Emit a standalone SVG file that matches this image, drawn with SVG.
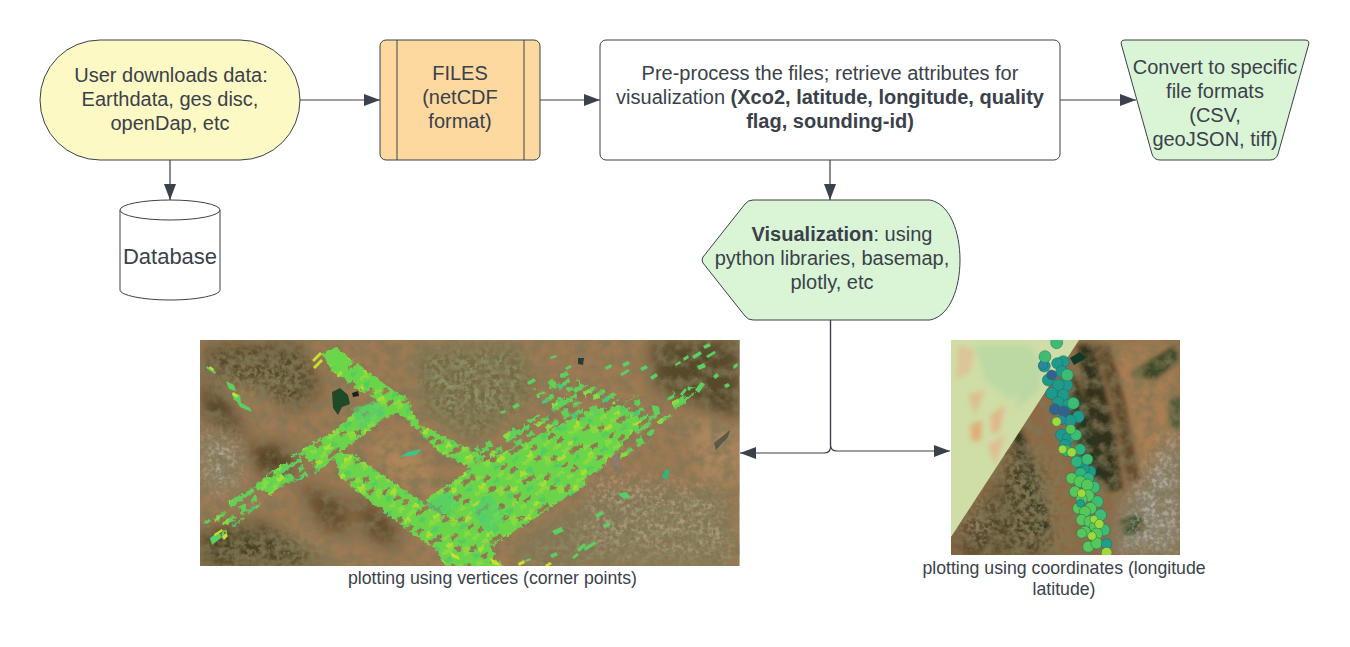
<svg xmlns="http://www.w3.org/2000/svg" width="1350" height="647" viewBox="0 0 1350 647">
<style>
.n{stroke:#3a414a;stroke-width:1}
text{font-family:"Liberation Sans",Arial,sans-serif;font-size:20px;fill:#3a414a;text-anchor:middle}
.b{font-weight:bold}
.cap{font-size:17.700px}
.c{fill:none;stroke:#3a414a;stroke-width:1.2}
.dots circle{stroke:#1d6b66;stroke-width:1.5}
</style>
<defs>
<marker id="ah" markerUnits="userSpaceOnUse" markerWidth="16" markerHeight="12" refX="16" refY="6" orient="auto"><path d="M0 0L16 6L0 12Z" fill="#3a414a"/></marker>
<filter id="noise" x="0" y="0" width="100%" height="100%"><feTurbulence type="fractalNoise" baseFrequency="0.09" numOctaves="5" seed="11"/><feColorMatrix values="0 0 0 0 .22  0 0 0 0 .18  0 0 0 0 .09  2.6 0 0 0 -.95"/></filter>
<filter id="speck" x="-25%" y="-25%" width="150%" height="150%"><feTurbulence type="fractalNoise" baseFrequency=".2" numOctaves="3" seed="5" result="t"/><feColorMatrix in="t" values="0 0 0 0 .27  0 0 0 0 .28  0 0 0 0 .13  0 4 0 0 -1.5" result="c"/><feGaussianBlur in="SourceAlpha" stdDeviation="13" result="a"/><feComposite in="c" in2="a" operator="in"/></filter>
<filter id="pale" x="-25%" y="-25%" width="150%" height="150%"><feTurbulence type="fractalNoise" baseFrequency=".25" numOctaves="3" seed="9" result="t"/><feColorMatrix in="t" values="0 0 0 0 .70  0 0 0 0 .62  0 0 0 0 .50  0 4 0 0 -1.7" result="c"/><feGaussianBlur in="SourceAlpha" stdDeviation="10" result="a"/><feComposite in="c" in2="a" operator="in"/></filter>
<filter id="bl" x="-25%" y="-25%" width="150%" height="150%"><feGaussianBlur stdDeviation="8"/></filter>
<filter id="bl2" x="-20%" y="-20%" width="140%" height="140%"><feGaussianBlur stdDeviation="2.500"/></filter>
<filter id="rough" x="-5%" y="-5%" width="110%" height="110%"><feTurbulence type="fractalNoise" baseFrequency=".3" numOctaves="1" seed="4" result="t"/><feDisplacementMap in="SourceGraphic" in2="t" scale="7" xChannelSelector="R" yChannelSelector="G" result="d"/><feGaussianBlur in="d" stdDeviation=".4"/></filter>
<clipPath id="cl"><rect x="200" y="340" width="539.500" height="226"/></clipPath>
<clipPath id="cr"><rect x="951" y="340" width="229" height="215"/></clipPath>
<clipPath id="tri"><path d="M951 340H1079L951 537Z"/></clipPath>
<pattern id="cells" width="56" height="32" patternUnits="userSpaceOnUse" patternTransform="rotate(-33) skewX(-8)">
<path fill="#6ad44c" fill-rule="evenodd" d="M0 0H56V32H0ZM14 4h7v4h-7ZM42 0h7v4h-7ZM28 12h7v4h-7ZM0 16h7v4h-7ZM49 16h7v4h-7ZM14 24h7v4h-7ZM35 24h7v4h-7Z"/>
<path fill="#88da40" d="M0 0h14v4H0ZM21 8h7v8h-7ZM35 4h7v4h-7ZM7 20h7v4H7ZM42 12h7v4h-7ZM28 28h7v4h-7Z"/>
<path fill="#aade34" d="M49 8h7v4h-7ZM7 28h7v4H7ZM35 16h7v4h-7Z"/>
<path fill="#55cc60" d="M0 8h7v4H0ZM28 20h7v4h-7ZM49 24h7v4h-7ZM21 0h7v4h-7Z"/>
</pattern>
<pattern id="sparse" width="56" height="32" patternUnits="userSpaceOnUse" patternTransform="rotate(-33) skewX(-8) translate(9 3)">
<path fill="#60d058" d="M0 0h14v4H0ZM21 4h14v4H21ZM42 0h14v4H42ZM7 8h7v4H7ZM28 12h14v4H28ZM49 8h7v8h-7ZM0 16h14v4H0ZM21 20h7v8h-7ZM35 20h14v4H35ZM7 24h7v4H7ZM42 28h14v4H42ZM14 28h14v4H14Z"/>
<path fill="#8adb44" d="M21 4h7v4h-7ZM28 12h7v4h-7ZM42 28h7v4h-7Z"/>
<path fill="#48c878" d="M0 16h7v4H0ZM35 20h7v4h-7Z"/>
</pattern>
</defs>

<g id="connectors">
<path class="c" d="M300 100H380" marker-end="url(#ah)"/>
<path class="c" d="M540 100H600" marker-end="url(#ah)"/>
<path class="c" d="M1060 100H1136" marker-end="url(#ah)"/>
<path class="c" d="M170 160V200" marker-end="url(#ah)"/>
<path class="c" d="M830 160V200" marker-end="url(#ah)"/>
<path class="c" d="M830.500 320V447Q830.500 453 824 453H740" marker-end="url(#ah)"/>
<path class="c" d="M830.500 320V445Q830.500 451 837 451H950" marker-end="url(#ah)"/>
</g>

<g id="node-download">
<rect class="n" x="40" y="40" width="260" height="120" rx="60" fill="#fdf9c4"/>
<text x="171" y="82">User downloads data:</text>
<text x="170" y="106">Earthdata, ges disc,</text>
<text x="170" y="130">openDap, etc</text>
</g>
<g id="node-files">
<rect class="n" x="380" y="40" width="160" height="120" rx="6" fill="#fdd9a0"/>
<path class="n" fill="none" d="M397 40V160M524 40V160"/>
<text x="460" y="80">FILES</text>
<text x="460" y="104">(netCDF</text>
<text x="460" y="128">format)</text>
</g>
<g id="node-preprocess">
<rect class="n" x="600" y="40" width="460" height="120" rx="6" fill="#fff"/>
<text x="830" y="80">Pre-process the files; retrieve attributes for</text>
<text x="830" y="104">visualization <tspan class="b">(Xco2, latitude, longitude, quality</tspan></text>
<text x="830" y="128" class="b">flag, sounding-id)</text>
</g>
<g id="node-convert">
<path class="n" fill="#daf5d6" d="M1125 40H1305Q1310 40 1308.500 45L1278 154Q1276 160 1270 160H1160Q1154 160 1152 154L1121.500 45Q1120 40 1125 40Z"/>
<text x="1215" y="74">Convert to specific</text>
<text x="1215" y="98">file formats</text>
<text x="1215" y="122">(CSV,</text>
<text x="1215" y="146">geoJSON, tiff)</text>
</g>
<g id="node-database">
<path class="n" fill="#fff" d="M120 210V290C120 295 142 300 170 300S220 295 220 290V210"/>
<ellipse class="n" cx="170" cy="210" rx="50" ry="10" fill="#fff"/>
<text x="170" y="264" style="font-size:22px">Database</text>
</g>
<g id="node-visualization">
<path class="n" fill="#daf5d6" d="M753 200H930C950 204 960 232 960 260S950 316 930 320H753Q748 320 745 316L703 263Q701 260 703 257L745 204Q748 200 753 200Z"/>
<text x="842" y="241"><tspan class="b">Visualization</tspan>: using</text>
<text x="832" y="265">python libraries, basemap,</text>
<text x="832" y="289">plotly, etc</text>
</g>

<g id="node-map-vertices">
<g clip-path="url(#cl)">
<rect x="200" y="340" width="540" height="226" fill="#9c7a54"/>
<g filter="url(#bl)">
<path fill="#584629" d="M205 345L300 342L322 390L296 412L262 390L205 372Z"/>
<path fill="#54452a" d="M200 378L225 395L250 440L205 420Z"/>
<path fill="#4f4023" d="M245 445L285 445L298 470L265 478Z"/>
<path fill="#604b2b" d="M298 482L345 500L352 535L322 530Z"/>
<path fill="#604b2b" d="M352 492L395 520L400 552L365 535Z"/>
<path fill="#483f23" d="M200 532L262 522L330 566H200Z"/>
<path fill="#544a29" d="M650 340H740V428L700 405L655 388Z"/>
<path fill="#8a8167" d="M203 430L240 450L235 490L205 490Z"/>
<path fill="#ab875e" d="M690 420H740V485L700 480Z"/>
<path fill="#ad8659" d="M370 430L420 450L440 500L380 470Z"/>
<path fill="#877452" d="M510 550L600 490L725 490L735 566H520Z"/>
<path fill="#736a42" d="M415 350L520 345L535 395L475 440L425 410Z"/>
</g>
<path fill="#000" filter="url(#speck)" d="M415 350L520 345L535 395L475 440L425 410Z"/>
<path fill="#000" filter="url(#speck)" d="M505 555L600 495L725 495L735 566H520Z" opacity=".7"/>
<path fill="#000" filter="url(#speck)" d="M205 350H320L300 410L210 385Z" opacity=".7"/>
<path fill="#000" filter="url(#speck)" d="M205 540L320 530L340 566H205Z" opacity=".7"/>
<path fill="#000" filter="url(#pale)" d="M205 425L240 440L240 480L205 495Z" opacity=".5"/>
<path fill="#000" filter="url(#pale)" d="M590 470L720 490L735 560L580 550Z" opacity=".35"/>
<rect x="200" y="340" width="540" height="226" filter="url(#noise)" opacity=".75"/>
<path fill="#1e4a26" d="M332 392L340 388L348 395L350 404L342 407L338 415L333 408Z"/>
<path fill="#16251c" d="M352 393L358 391L359 396L353 397Z"/>
<path fill="#2a3a36" d="M578 358L584 358L583 365L578 364Z"/>
<path fill="#2c4038" opacity=".6" d="M714 443L730 430L728 437L716 450Z"/>
<path fill="#8a7f8a" opacity=".6" d="M608 440L614 465L630 478L620 470L616 440Z"/>
<g filter="url(#rough)">
<g fill="url(#cells)">
<path d="M322 353L336 347L379 380L405 398L420 425L486 457L476 470L440 453L404 417L365 393L333 373Z"/>
<path d="M300 450L333 432L361 407L404 395L411 405L383 420L347 447L318 472Z"/>
<path d="M254 487L275 468L290 480L270 495Z"/>
<path d="M333 453L351 453L419 500L490 547L504 568H447L436 550L390 517L340 477Z"/>
<path d="M425 500L476 465L530 440L590 410L620 405L645 418L611 457L583 487L490 547L461 530L436 507Z"/>
</g>
<g fill="url(#sparse)">
<path d="M204 523L226 503L254 487L283 463L300 450L318 472L276 490L251 513L222 537Z"/>
<path d="M476 447L547 410L586 385L626 393L600 415L530 440L476 465Z"/>
<path d="M533 390L569 370L586 387L547 410Z"/>
<path d="M615 410L640 393L660 408L640 433L625 430Z"/>
<path d="M636 433L678 388L700 387L652 437Z"/>
<path d="M611 457L640 433L650 440L622 462Z"/>
</g>
<path fill="#6ad648" d="M322 355L336 347L352 362L345 375L332 365Z"/>
<path fill="#4fce70" opacity=".6" d="M470 510L490 495L505 515L490 535Z"/>
<path fill="#4fce70" opacity=".6" d="M425 505L445 490L460 505L440 515Z"/>
<path fill="#52cc70" opacity=".6" d="M352 408L380 400L385 415L360 430Z"/>
</g>
<g fill="#5bd060">
<path d="M703 346l6-3 2 3-6 3z M692 356l8-5 2 3-8 5z M706 356l8-5 2 2-8 5z M697 366l7-3 2 4-7 3z M683 358l5-3 1 3-5 3z M675 364l5-3 1 2-5 3z M733 366l4-3 1 3-4 3z M713 376l4-3 2 3-4 3z M695 390l6-8 4 2-6 9z M724 385l4-2 2 3-4 2z M680 394l5-6 2 2-5 6z M668 398l5-3 2 2-5 3z"/>
<path d="M640 368l6-3 2 3-6 3z M622 364l6-3 2 3-6 3z M605 367l6-3 1 3-6 3z M620 374l8-5 2 2-8 5z M650 377l6-4 2 3-6 4z"/>
<path d="M527 382l7-4 2 3-7 4z M512 406l6-3 2 3-6 3z M500 412l5-2 1 2-5 2z M560 375l7-3 2 3-7 3z M550 357l6-2 1 2-6 2z M565 368l5-3 2 2-5 3z"/>
<path d="M226 381l8 4 2 6-7-2z M232 393l8 2 1 8-7-3z M236 400l14 8 2 4-12-5z M207 366l9 6-1 2-9-6z"/>
<path d="M552 531l9-4 3 4-9 4z M595 515l7-4 2 3-7 4z M550 555l6-3 2 3-6 3z M525 560l5-2 1 2-5 2z M577 549l7-6 2 3-7 6z M572 557l5-4 2 2-5 4z M584 548l11-7 1 3-11 7z M603 525l6-3 2 3-6 3z"/>
<path d="M618 494l8-2 5 5-7 2z" fill="#4fd06a"/>
<path d="M662 477l4-8 4 2-3 9z" fill="#2fb67c"/>
<path d="M400 457l8-5 14-3-6 6z" fill="#3ec486"/>
<path d="M205 522l4-3 2 2-4 3z M210 538l8-6 4 5-10 8z"/>
</g>
<path fill="#c9e02e" d="M312 360l8-8 2 2-8 8z M313 367l8-8 2 2-8 8z M210 366l4 3-1 2-4-3z M233 392l5 3-1 3-5-3z M222 537l4-4 2 3-4 4z M214 534l8-5 1 2-8 5z M545 565l5-3 2 2-5 3z M518 563l6-3 1 3-6 3z M450 552l8 4 2 4-8-3z M490 558l8 4 2 4-8-2z"/>
</g>
</g>

<g id="node-map-coordinates">
<g clip-path="url(#cr)">
<rect x="951" y="340" width="229" height="215" fill="#8c6a45"/>
<g filter="url(#bl)">
<path fill="#a87e52" d="M1095 340H1180V470L1135 480L1112 400Z"/>
<path fill="#8a8674" d="M1120 510L1150 470L1180 430V555H1115Z"/>
<path fill="#4a3d22" d="M1010 440L1040 470L1050 555H1000Z"/>
<path fill="#524428" d="M960 530L1010 470L1010 555H955Z"/>
</g>
<g filter="url(#bl2)">
<path fill="#33301a" d="M1078 345L1093 345L1115 430L1122 490L1105 490L1085 400Z"/>
<path fill="#28351f" d="M1072 370L1084 400L1104 480L1090 480L1070 420Z"/>
<path fill="#5e4a2c" d="M1095 345L1110 345L1125 400L1140 480L1128 480L1112 400Z"/>
<path fill="#33301a" d="M1012 430L1022 430L1050 530L1040 535Z"/>
<path fill="#3c4a28" d="M1130 375L1150 360L1175 345L1180 360L1155 380Z"/>
<path fill="#3c5230" d="M1170 400L1180 395V430L1170 425Z"/>
<path fill="#33492a" d="M1120 520L1140 515L1145 530L1125 535Z"/>
</g>
<path fill="#000" filter="url(#pale)" d="M1130 500L1170 430L1180 430V555H1125Z" opacity=".5"/>
<path fill="#000" filter="url(#pale)" d="M965 520L990 490L995 540L962 548Z" opacity=".5"/>
<path fill="#000" filter="url(#speck)" d="M1000 440L1050 460L1060 555H1000Z" opacity=".7"/>
<rect x="951" y="340" width="229" height="215" filter="url(#noise)" opacity=".75"/>
<path fill="#0f3a2a" d="M1070 358L1080 352L1086 358L1074 365Z"/>
<path fill="#cfdda6" d="M951 340H1079L951 537Z"/>
<g clip-path="url(#tri)">
<g filter="url(#bl2)">
<path fill="#dcbf8c" d="M968 395L985 390L975 415Z"/>
<path fill="#e0ad78" d="M970 425L982 420L981 440L972 442Z"/>
<path fill="#e0b88a" d="M990 415L1005 405L1000 430L992 435Z"/>
<path fill="#dfbd92" d="M988 445L1005 435L995 465Z"/>
<path fill="#bcd9a4" d="M975 345L1030 345L1045 370L1010 400L985 380Z"/>
<path fill="#dcc598" d="M958 345L975 350L970 372L956 380Z"/>
<path fill="#bcd8a2" d="M1020 385L1040 370L1040 390L1015 410Z"/>
</g>
</g>
<g class="dots" transform="translate(730 330) scale(.3333)">
<g fill="#1f9a8a"><circle cx="943" cy="108" r="18"/><circle cx="1000" cy="95" r="18"/><circle cx="982" cy="100" r="17"/><circle cx="995" cy="125" r="18"/><circle cx="955" cy="150" r="18"/><circle cx="1010" cy="165" r="18"/><circle cx="985" cy="165" r="18"/><circle cx="965" cy="190" r="18"/><circle cx="1000" cy="195" r="18"/><circle cx="985" cy="218" r="18"/><circle cx="1015" cy="225" r="18"/><circle cx="1045" cy="260" r="18"/><circle cx="1020" cy="272" r="18"/><circle cx="995" cy="315" r="18"/><circle cx="1015" cy="325" r="18"/><circle cx="1005" cy="345" r="17"/><circle cx="1080" cy="425" r="18"/><circle cx="1060" cy="415" r="18"/><circle cx="1050" cy="395" r="17"/></g>
<g fill="#33638d"><circle cx="965" cy="135" r="15"/><circle cx="975" cy="238" r="17"/><circle cx="1002" cy="245" r="17"/></g>
<g fill="#2a87a0"><circle cx="940" cy="105" r="14"/><circle cx="995" cy="270" r="14"/></g>
<g fill="#3fbc73"><circle cx="980" cy="38" r="18"/><circle cx="945" cy="80" r="18"/><circle cx="1012" cy="135" r="18"/><circle cx="1030" cy="220" r="18"/><circle cx="1038" cy="315" r="17"/><circle cx="1072" cy="388" r="17"/><circle cx="1092" cy="472" r="18"/><circle cx="1102" cy="515" r="18"/><circle cx="1122" cy="600" r="18"/><circle cx="1112" cy="555" r="18"/></g>
<g fill="#2fb47c"><circle cx="1010" cy="362" r="17"/><circle cx="1040" cy="395" r="17"/><circle cx="1050" cy="358" r="17"/><circle cx="1052" cy="430" r="17"/><circle cx="1075" cy="445" r="17"/></g>
<g fill="#57c857"><circle cx="1022" cy="298" r="15"/><circle cx="1025" cy="445" r="17"/><circle cx="1050" cy="455" r="18"/><circle cx="1072" cy="465" r="18"/><circle cx="1035" cy="485" r="17"/><circle cx="1075" cy="497" r="18"/><circle cx="1055" cy="508" r="17"/><circle cx="1082" cy="535" r="18"/><circle cx="1045" cy="535" r="17"/><circle cx="1065" cy="545" r="17"/><circle cx="1055" cy="570" r="17"/><circle cx="1080" cy="575" r="18"/><circle cx="1095" cy="590" r="17"/><circle cx="1065" cy="605" r="17"/><circle cx="1100" cy="612" r="18"/><circle cx="1075" cy="650" r="17"/><circle cx="1100" cy="640" r="17"/><circle cx="1055" cy="610" r="15"/></g>
<g fill="#1f9e89"><circle cx="1052" cy="520" r="12"/><circle cx="1130" cy="642" r="16"/></g>
<g fill="#a0da39"><circle cx="980" cy="275" r="14"/><circle cx="998" cy="358" r="13"/><circle cx="1025" cy="367" r="14"/><circle cx="1055" cy="490" r="13"/><circle cx="1092" cy="568" r="12"/><circle cx="1108" cy="582" r="14"/><circle cx="1086" cy="618" r="13"/><circle cx="1130" cy="668" r="16"/></g>
</g>
</g>
</g>

<g id="captions">
<text class="cap" x="492.500" y="584">plotting using vertices (corner points)</text>
<text class="cap" x="1064" y="574">plotting using coordinates (longitude</text>
<text class="cap" x="1064" y="595">latitude)</text>
</g>
</svg>
